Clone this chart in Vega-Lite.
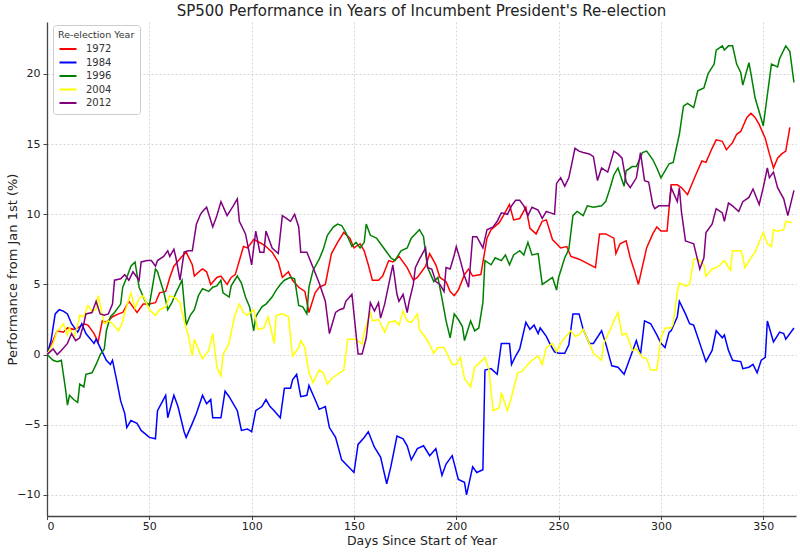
{
  "$schema": "https://vega.github.io/schema/vega-lite/v6.json",
  "autosize": {"type": "none"},
  "width": 749,
  "height": 494,
  "padding": {"left": 47, "top": 22, "right": 4, "bottom": 36},
  "title": {"text": "SP500 Performance in Years of Incumbent President's Re-election", "fontSize": 15, "fontWeight": "normal", "font": "DejaVu Sans", "color": "#222", "offset": 3, "anchor": "middle", "frame": "group"},
  "data": {
    "values": [
      {"year": "1972", "day": 0, "pct": 0}, {"year": "1972", "day": 3, "pct": 1.0}, {"year": "1972", "day": 5, "pct": 1.7}, {"year": "1972", "day": 8, "pct": 1.6}, {"year": "1972", "day": 10, "pct": 1.9}, {"year": "1972", "day": 13, "pct": 1.8}, {"year": "1972", "day": 15, "pct": 1.9}, {"year": "1972", "day": 18, "pct": 2.2}, {"year": "1972", "day": 20, "pct": 2.1}, {"year": "1972", "day": 23, "pct": 1.5}, {"year": "1972", "day": 25, "pct": 0.9}, {"year": "1972", "day": 27, "pct": 2.4}, {"year": "1972", "day": 29, "pct": 2.3}, {"year": "1972", "day": 32, "pct": 2.7}, {"year": "1972", "day": 35, "pct": 2.9}, {"year": "1972", "day": 37, "pct": 3.0}, {"year": "1972", "day": 40, "pct": 3.8}, {"year": "1972", "day": 44, "pct": 3.0}, {"year": "1972", "day": 47, "pct": 3.6}, {"year": "1972", "day": 50, "pct": 3.6}, {"year": "1972", "day": 53, "pct": 3.7}, {"year": "1972", "day": 55, "pct": 4.4}, {"year": "1972", "day": 58, "pct": 4.5}, {"year": "1972", "day": 60, "pct": 5.5}, {"year": "1972", "day": 62, "pct": 6.3}, {"year": "1972", "day": 66, "pct": 7.0}, {"year": "1972", "day": 68, "pct": 7.3}, {"year": "1972", "day": 71, "pct": 6.4}, {"year": "1972", "day": 72, "pct": 5.6}, {"year": "1972", "day": 75, "pct": 6.0}, {"year": "1972", "day": 76, "pct": 6.1}, {"year": "1972", "day": 78, "pct": 5.9}, {"year": "1972", "day": 80, "pct": 5.0}, {"year": "1972", "day": 83, "pct": 5.5}, {"year": "1972", "day": 85, "pct": 5.6}, {"year": "1972", "day": 88, "pct": 5.0}, {"year": "1972", "day": 90, "pct": 5.5}, {"year": "1972", "day": 92, "pct": 5.7}, {"year": "1972", "day": 96, "pct": 7.7}, {"year": "1972", "day": 98, "pct": 7.6}, {"year": "1972", "day": 101, "pct": 8.2}, {"year": "1972", "day": 105, "pct": 7.9}, {"year": "1972", "day": 107, "pct": 7.7}, {"year": "1972", "day": 110, "pct": 7.3}, {"year": "1972", "day": 113, "pct": 6.6}, {"year": "1972", "day": 115, "pct": 5.5}, {"year": "1972", "day": 118, "pct": 5.9}, {"year": "1972", "day": 120, "pct": 5.3}, {"year": "1972", "day": 123, "pct": 4.8}, {"year": "1972", "day": 126, "pct": 4.5}, {"year": "1972", "day": 128, "pct": 3.0}, {"year": "1972", "day": 131, "pct": 4.4}, {"year": "1972", "day": 133, "pct": 4.8}, {"year": "1972", "day": 136, "pct": 5.0}, {"year": "1972", "day": 139, "pct": 7.2}, {"year": "1972", "day": 142, "pct": 8.0}, {"year": "1972", "day": 145, "pct": 8.7}, {"year": "1972", "day": 148, "pct": 8.3}, {"year": "1972", "day": 150, "pct": 7.6}, {"year": "1972", "day": 153, "pct": 7.9}, {"year": "1972", "day": 155, "pct": 7.4}, {"year": "1972", "day": 157, "pct": 6.4}, {"year": "1972", "day": 159, "pct": 5.3}, {"year": "1972", "day": 162, "pct": 5.3}, {"year": "1972", "day": 164, "pct": 5.6}, {"year": "1972", "day": 167, "pct": 6.7}, {"year": "1972", "day": 169, "pct": 6.6}, {"year": "1972", "day": 172, "pct": 7.0}, {"year": "1972", "day": 176, "pct": 6.2}, {"year": "1972", "day": 179, "pct": 5.3}, {"year": "1972", "day": 181, "pct": 5.5}, {"year": "1972", "day": 185, "pct": 6.3}, {"year": "1972", "day": 187, "pct": 7.2}, {"year": "1972", "day": 190, "pct": 6.4}, {"year": "1972", "day": 192, "pct": 5.5}, {"year": "1972", "day": 195, "pct": 5.2}, {"year": "1972", "day": 197, "pct": 4.5}, {"year": "1972", "day": 199, "pct": 4.2}, {"year": "1972", "day": 201, "pct": 4.6}, {"year": "1972", "day": 204, "pct": 5.7}, {"year": "1972", "day": 206, "pct": 6.1}, {"year": "1972", "day": 208, "pct": 5.6}, {"year": "1972", "day": 212, "pct": 5.7}, {"year": "1972", "day": 215, "pct": 8.3}, {"year": "1972", "day": 217, "pct": 8.9}, {"year": "1972", "day": 221, "pct": 9.4}, {"year": "1972", "day": 223, "pct": 9.9}, {"year": "1972", "day": 226, "pct": 10.7}, {"year": "1972", "day": 228, "pct": 9.6}, {"year": "1972", "day": 231, "pct": 9.7}, {"year": "1972", "day": 234, "pct": 10.5}, {"year": "1972", "day": 236, "pct": 9.0}, {"year": "1972", "day": 239, "pct": 8.6}, {"year": "1972", "day": 242, "pct": 9.5}, {"year": "1972", "day": 244, "pct": 9.6}, {"year": "1972", "day": 247, "pct": 8.2}, {"year": "1972", "day": 251, "pct": 7.6}, {"year": "1972", "day": 254, "pct": 7.7}, {"year": "1972", "day": 256, "pct": 7.0}, {"year": "1972", "day": 260, "pct": 6.8}, {"year": "1972", "day": 264, "pct": 6.5}, {"year": "1972", "day": 268, "pct": 6.2}, {"year": "1972", "day": 270, "pct": 8.6}, {"year": "1972", "day": 273, "pct": 8.6}, {"year": "1972", "day": 277, "pct": 8.3}, {"year": "1972", "day": 278, "pct": 7.2}, {"year": "1972", "day": 280, "pct": 7.9}, {"year": "1972", "day": 283, "pct": 8.1}, {"year": "1972", "day": 285, "pct": 6.9}, {"year": "1972", "day": 287, "pct": 6.0}, {"year": "1972", "day": 289, "pct": 5.0}, {"year": "1972", "day": 291, "pct": 6.3}, {"year": "1972", "day": 293, "pct": 7.6}, {"year": "1972", "day": 296, "pct": 8.6}, {"year": "1972", "day": 298, "pct": 9.1}, {"year": "1972", "day": 300, "pct": 8.8}, {"year": "1972", "day": 303, "pct": 8.8}, {"year": "1972", "day": 305, "pct": 12.1}, {"year": "1972", "day": 308, "pct": 12.1}, {"year": "1972", "day": 310, "pct": 11.9}, {"year": "1972", "day": 313, "pct": 11.4}, {"year": "1972", "day": 315, "pct": 12.1}, {"year": "1972", "day": 317, "pct": 12.8}, {"year": "1972", "day": 320, "pct": 13.8}, {"year": "1972", "day": 322, "pct": 13.7}, {"year": "1972", "day": 325, "pct": 14.7}, {"year": "1972", "day": 327, "pct": 15.3}, {"year": "1972", "day": 330, "pct": 15.2}, {"year": "1972", "day": 332, "pct": 14.6}, {"year": "1972", "day": 335, "pct": 15.1}, {"year": "1972", "day": 337, "pct": 15.7}, {"year": "1972", "day": 339, "pct": 15.9}, {"year": "1972", "day": 342, "pct": 16.9}, {"year": "1972", "day": 344, "pct": 17.2}, {"year": "1972", "day": 346, "pct": 16.9}, {"year": "1972", "day": 348, "pct": 16.4}, {"year": "1972", "day": 351, "pct": 15.4}, {"year": "1972", "day": 353, "pct": 14.3}, {"year": "1972", "day": 355, "pct": 13.3}, {"year": "1972", "day": 357, "pct": 14.0}, {"year": "1972", "day": 359, "pct": 14.3}, {"year": "1972", "day": 361, "pct": 14.5}, {"year": "1972", "day": 363, "pct": 16.2},

      {"year": "1984", "day": 0, "pct": 0}, {"year": "1984", "day": 2, "pct": 1.0}, {"year": "1984", "day": 4, "pct": 2.9}, {"year": "1984", "day": 6, "pct": 3.2}, {"year": "1984", "day": 8, "pct": 3.1}, {"year": "1984", "day": 10, "pct": 2.9}, {"year": "1984", "day": 12, "pct": 2.2}, {"year": "1984", "day": 15, "pct": 1.6}, {"year": "1984", "day": 17, "pct": 2.2}, {"year": "1984", "day": 19, "pct": 1.5}, {"year": "1984", "day": 23, "pct": 0.8}, {"year": "1984", "day": 24, "pct": 1.1}, {"year": "1984", "day": 26, "pct": 0.5}, {"year": "1984", "day": 29, "pct": -0.4}, {"year": "1984", "day": 31, "pct": -0.7}, {"year": "1984", "day": 32, "pct": -0.4}, {"year": "1984", "day": 34, "pct": -1.8}, {"year": "1984", "day": 36, "pct": -3.3}, {"year": "1984", "day": 38, "pct": -4.2}, {"year": "1984", "day": 39, "pct": -5.2}, {"year": "1984", "day": 41, "pct": -4.7}, {"year": "1984", "day": 44, "pct": -4.9}, {"year": "1984", "day": 46, "pct": -5.4}, {"year": "1984", "day": 50, "pct": -5.9}, {"year": "1984", "day": 53, "pct": -6.0}, {"year": "1984", "day": 54, "pct": -4.0}, {"year": "1984", "day": 58, "pct": -2.9}, {"year": "1984", "day": 59, "pct": -4.5}, {"year": "1984", "day": 62, "pct": -2.9}, {"year": "1984", "day": 64, "pct": -3.7}, {"year": "1984", "day": 67, "pct": -5.5}, {"year": "1984", "day": 68, "pct": -5.9}, {"year": "1984", "day": 71, "pct": -4.9}, {"year": "1984", "day": 73, "pct": -4.2}, {"year": "1984", "day": 76, "pct": -2.9}, {"year": "1984", "day": 78, "pct": -3.5}, {"year": "1984", "day": 80, "pct": -3.2}, {"year": "1984", "day": 81, "pct": -4.5}, {"year": "1984", "day": 85, "pct": -4.5}, {"year": "1984", "day": 87, "pct": -2.6}, {"year": "1984", "day": 89, "pct": -3.0}, {"year": "1984", "day": 93, "pct": -4.0}, {"year": "1984", "day": 95, "pct": -5.4}, {"year": "1984", "day": 98, "pct": -5.3}, {"year": "1984", "day": 100, "pct": -5.5}, {"year": "1984", "day": 102, "pct": -4.0}, {"year": "1984", "day": 105, "pct": -3.7}, {"year": "1984", "day": 107, "pct": -3.2}, {"year": "1984", "day": 109, "pct": -3.7}, {"year": "1984", "day": 111, "pct": -4.0}, {"year": "1984", "day": 114, "pct": -4.5}, {"year": "1984", "day": 116, "pct": -2.4}, {"year": "1984", "day": 119, "pct": -2.4}, {"year": "1984", "day": 120, "pct": -1.8}, {"year": "1984", "day": 122, "pct": -1.4}, {"year": "1984", "day": 124, "pct": -3.0}, {"year": "1984", "day": 127, "pct": -2.9}, {"year": "1984", "day": 128, "pct": -2.2}, {"year": "1984", "day": 131, "pct": -3.2}, {"year": "1984", "day": 133, "pct": -3.9}, {"year": "1984", "day": 136, "pct": -3.7}, {"year": "1984", "day": 138, "pct": -5.2}, {"year": "1984", "day": 141, "pct": -5.9}, {"year": "1984", "day": 144, "pct": -7.5}, {"year": "1984", "day": 146, "pct": -7.8}, {"year": "1984", "day": 150, "pct": -8.4}, {"year": "1984", "day": 152, "pct": -6.4}, {"year": "1984", "day": 155, "pct": -5.9}, {"year": "1984", "day": 157, "pct": -5.5}, {"year": "1984", "day": 160, "pct": -6.6}, {"year": "1984", "day": 163, "pct": -7.3}, {"year": "1984", "day": 166, "pct": -9.2}, {"year": "1984", "day": 168, "pct": -8.0}, {"year": "1984", "day": 171, "pct": -5.8}, {"year": "1984", "day": 174, "pct": -6.0}, {"year": "1984", "day": 176, "pct": -6.5}, {"year": "1984", "day": 178, "pct": -7.5}, {"year": "1984", "day": 181, "pct": -6.7}, {"year": "1984", "day": 184, "pct": -6.5}, {"year": "1984", "day": 187, "pct": -7.2}, {"year": "1984", "day": 190, "pct": -6.7}, {"year": "1984", "day": 193, "pct": -8.6}, {"year": "1984", "day": 195, "pct": -7.8}, {"year": "1984", "day": 198, "pct": -7.2}, {"year": "1984", "day": 201, "pct": -8.9}, {"year": "1984", "day": 204, "pct": -9.1}, {"year": "1984", "day": 205, "pct": -10.0}, {"year": "1984", "day": 208, "pct": -8.0}, {"year": "1984", "day": 210, "pct": -8.4}, {"year": "1984", "day": 213, "pct": -8.2}, {"year": "1984", "day": 214, "pct": -1.1}, {"year": "1984", "day": 217, "pct": -1.0}, {"year": "1984", "day": 220, "pct": -1.4}, {"year": "1984", "day": 222, "pct": 0.8}, {"year": "1984", "day": 226, "pct": 0.8}, {"year": "1984", "day": 227, "pct": -0.7}, {"year": "1984", "day": 229, "pct": -0.1}, {"year": "1984", "day": 231, "pct": 0.4}, {"year": "1984", "day": 234, "pct": 2.3}, {"year": "1984", "day": 236, "pct": 1.8}, {"year": "1984", "day": 238, "pct": 2.1}, {"year": "1984", "day": 240, "pct": 1.5}, {"year": "1984", "day": 241, "pct": 1.9}, {"year": "1984", "day": 244, "pct": 1.3}, {"year": "1984", "day": 246, "pct": 0.7}, {"year": "1984", "day": 248, "pct": 0.2}, {"year": "1984", "day": 250, "pct": 0.1}, {"year": "1984", "day": 253, "pct": 0.1}, {"year": "1984", "day": 255, "pct": 0.7}, {"year": "1984", "day": 257, "pct": 2.9}, {"year": "1984", "day": 260, "pct": 2.9}, {"year": "1984", "day": 262, "pct": 1.8}, {"year": "1984", "day": 265, "pct": 0.8}, {"year": "1984", "day": 267, "pct": 0.8}, {"year": "1984", "day": 271, "pct": 1.7}, {"year": "1984", "day": 273, "pct": 0.8}, {"year": "1984", "day": 276, "pct": -0.8}, {"year": "1984", "day": 279, "pct": -0.9}, {"year": "1984", "day": 282, "pct": -1.4}, {"year": "1984", "day": 283, "pct": -1.0}, {"year": "1984", "day": 286, "pct": 0.2}, {"year": "1984", "day": 288, "pct": 1.0}, {"year": "1984", "day": 290, "pct": 0.0}, {"year": "1984", "day": 292, "pct": 2.4}, {"year": "1984", "day": 295, "pct": 2.2}, {"year": "1984", "day": 298, "pct": 1.4}, {"year": "1984", "day": 300, "pct": 0.8}, {"year": "1984", "day": 302, "pct": 0.5}, {"year": "1984", "day": 304, "pct": 1.6}, {"year": "1984", "day": 305, "pct": 1.7}, {"year": "1984", "day": 308, "pct": 2.7}, {"year": "1984", "day": 309, "pct": 3.8}, {"year": "1984", "day": 312, "pct": 2.9}, {"year": "1984", "day": 314, "pct": 2.2}, {"year": "1984", "day": 316, "pct": 2.1}, {"year": "1984", "day": 319, "pct": 0.8}, {"year": "1984", "day": 322, "pct": -0.5}, {"year": "1984", "day": 325, "pct": 0.3}, {"year": "1984", "day": 327, "pct": 1.7}, {"year": "1984", "day": 330, "pct": 1.2}, {"year": "1984", "day": 331, "pct": 1.4}, {"year": "1984", "day": 333, "pct": 0.3}, {"year": "1984", "day": 335, "pct": -0.4}, {"year": "1984", "day": 339, "pct": -0.5}, {"year": "1984", "day": 340, "pct": -1.0}, {"year": "1984", "day": 343, "pct": -0.9}, {"year": "1984", "day": 345, "pct": -0.7}, {"year": "1984", "day": 347, "pct": -1.3}, {"year": "1984", "day": 349, "pct": -0.4}, {"year": "1984", "day": 351, "pct": -0.2}, {"year": "1984", "day": 352, "pct": 2.4}, {"year": "1984", "day": 355, "pct": 0.9}, {"year": "1984", "day": 358, "pct": 1.6}, {"year": "1984", "day": 360, "pct": 1.5}, {"year": "1984", "day": 361, "pct": 1.1}, {"year": "1984", "day": 365, "pct": 1.9},

      {"year": "1996", "day": 0, "pct": 0}, {"year": "1996", "day": 3, "pct": -0.4}, {"year": "1996", "day": 5, "pct": -0.5}, {"year": "1996", "day": 7, "pct": -0.4}, {"year": "1996", "day": 9, "pct": -2.4}, {"year": "1996", "day": 10, "pct": -3.6}, {"year": "1996", "day": 11, "pct": -2.9}, {"year": "1996", "day": 13, "pct": -3.2}, {"year": "1996", "day": 15, "pct": -3.4}, {"year": "1996", "day": 16, "pct": -2.1}, {"year": "1996", "day": 18, "pct": -2.3}, {"year": "1996", "day": 19, "pct": -1.4}, {"year": "1996", "day": 22, "pct": -1.3}, {"year": "1996", "day": 24, "pct": -0.7}, {"year": "1996", "day": 26, "pct": 0.0}, {"year": "1996", "day": 28, "pct": 0.4}, {"year": "1996", "day": 29, "pct": 1.7}, {"year": "1996", "day": 31, "pct": 2.7}, {"year": "1996", "day": 33, "pct": 3.0}, {"year": "1996", "day": 36, "pct": 3.6}, {"year": "1996", "day": 37, "pct": 4.8}, {"year": "1996", "day": 39, "pct": 5.5}, {"year": "1996", "day": 41, "pct": 6.3}, {"year": "1996", "day": 43, "pct": 6.6}, {"year": "1996", "day": 45, "pct": 4.8}, {"year": "1996", "day": 48, "pct": 3.8}, {"year": "1996", "day": 50, "pct": 3.5}, {"year": "1996", "day": 53, "pct": 6.1}, {"year": "1996", "day": 54, "pct": 5.9}, {"year": "1996", "day": 57, "pct": 4.5}, {"year": "1996", "day": 59, "pct": 3.2}, {"year": "1996", "day": 61, "pct": 3.7}, {"year": "1996", "day": 63, "pct": 4.4}, {"year": "1996", "day": 66, "pct": 5.3}, {"year": "1996", "day": 68, "pct": 2.1}, {"year": "1996", "day": 70, "pct": 2.8}, {"year": "1996", "day": 72, "pct": 3.2}, {"year": "1996", "day": 74, "pct": 4.2}, {"year": "1996", "day": 76, "pct": 4.7}, {"year": "1996", "day": 79, "pct": 4.5}, {"year": "1996", "day": 81, "pct": 4.8}, {"year": "1996", "day": 83, "pct": 4.9}, {"year": "1996", "day": 85, "pct": 5.3}, {"year": "1996", "day": 86, "pct": 4.4}, {"year": "1996", "day": 89, "pct": 4.1}, {"year": "1996", "day": 90, "pct": 4.9}, {"year": "1996", "day": 93, "pct": 5.6}, {"year": "1996", "day": 95, "pct": 5.1}, {"year": "1996", "day": 97, "pct": 4.1}, {"year": "1996", "day": 99, "pct": 3.4}, {"year": "1996", "day": 101, "pct": 1.7}, {"year": "1996", "day": 102, "pct": 2.7}, {"year": "1996", "day": 105, "pct": 3.4}, {"year": "1996", "day": 107, "pct": 3.6}, {"year": "1996", "day": 110, "pct": 4.1}, {"year": "1996", "day": 112, "pct": 4.6}, {"year": "1996", "day": 114, "pct": 5.0}, {"year": "1996", "day": 116, "pct": 5.3}, {"year": "1996", "day": 119, "pct": 5.5}, {"year": "1996", "day": 121, "pct": 5.4}, {"year": "1996", "day": 123, "pct": 3.5}, {"year": "1996", "day": 125, "pct": 3.4}, {"year": "1996", "day": 127, "pct": 2.9}, {"year": "1996", "day": 128, "pct": 4.8}, {"year": "1996", "day": 130, "pct": 6.0}, {"year": "1996", "day": 133, "pct": 6.8}, {"year": "1996", "day": 135, "pct": 7.5}, {"year": "1996", "day": 137, "pct": 8.5}, {"year": "1996", "day": 140, "pct": 9.1}, {"year": "1996", "day": 142, "pct": 9.3}, {"year": "1996", "day": 144, "pct": 9.2}, {"year": "1996", "day": 146, "pct": 8.7}, {"year": "1996", "day": 149, "pct": 7.7}, {"year": "1996", "day": 151, "pct": 8.0}, {"year": "1996", "day": 153, "pct": 7.6}, {"year": "1996", "day": 155, "pct": 8.0}, {"year": "1996", "day": 156, "pct": 9.3}, {"year": "1996", "day": 158, "pct": 8.5}, {"year": "1996", "day": 161, "pct": 8.3}, {"year": "1996", "day": 164, "pct": 7.7}, {"year": "1996", "day": 168, "pct": 6.9}, {"year": "1996", "day": 170, "pct": 6.7}, {"year": "1996", "day": 173, "pct": 7.4}, {"year": "1996", "day": 176, "pct": 7.6}, {"year": "1996", "day": 178, "pct": 8.3}, {"year": "1996", "day": 182, "pct": 8.9}, {"year": "1996", "day": 184, "pct": 8.4}, {"year": "1996", "day": 185, "pct": 7.2}, {"year": "1996", "day": 186, "pct": 6.2}, {"year": "1996", "day": 189, "pct": 5.2}, {"year": "1996", "day": 191, "pct": 5.5}, {"year": "1996", "day": 193, "pct": 4.0}, {"year": "1996", "day": 195, "pct": 2.4}, {"year": "1996", "day": 197, "pct": 1.2}, {"year": "1996", "day": 199, "pct": 2.9}, {"year": "1996", "day": 201, "pct": 2.5}, {"year": "1996", "day": 203, "pct": 2.0}, {"year": "1996", "day": 204, "pct": 1.0}, {"year": "1996", "day": 207, "pct": 2.4}, {"year": "1996", "day": 209, "pct": 1.7}, {"year": "1996", "day": 211, "pct": 1.9}, {"year": "1996", "day": 213, "pct": 3.7}, {"year": "1996", "day": 214, "pct": 6.7}, {"year": "1996", "day": 217, "pct": 6.4}, {"year": "1996", "day": 219, "pct": 6.9}, {"year": "1996", "day": 222, "pct": 6.7}, {"year": "1996", "day": 224, "pct": 7.1}, {"year": "1996", "day": 226, "pct": 6.4}, {"year": "1996", "day": 228, "pct": 7.1}, {"year": "1996", "day": 231, "pct": 7.4}, {"year": "1996", "day": 233, "pct": 7.1}, {"year": "1996", "day": 235, "pct": 8.0}, {"year": "1996", "day": 237, "pct": 7.1}, {"year": "1996", "day": 240, "pct": 7.2}, {"year": "1996", "day": 242, "pct": 5.0}, {"year": "1996", "day": 244, "pct": 5.2}, {"year": "1996", "day": 247, "pct": 5.5}, {"year": "1996", "day": 249, "pct": 4.6}, {"year": "1996", "day": 250, "pct": 5.5}, {"year": "1996", "day": 253, "pct": 6.9}, {"year": "1996", "day": 255, "pct": 7.5}, {"year": "1996", "day": 257, "pct": 9.9}, {"year": "1996", "day": 259, "pct": 10.2}, {"year": "1996", "day": 262, "pct": 9.9}, {"year": "1996", "day": 264, "pct": 10.6}, {"year": "1996", "day": 267, "pct": 10.5}, {"year": "1996", "day": 271, "pct": 10.6}, {"year": "1996", "day": 273, "pct": 10.9}, {"year": "1996", "day": 275, "pct": 11.8}, {"year": "1996", "day": 277, "pct": 12.8}, {"year": "1996", "day": 279, "pct": 13.3}, {"year": "1996", "day": 282, "pct": 12.0}, {"year": "1996", "day": 283, "pct": 13.1}, {"year": "1996", "day": 286, "pct": 13.4}, {"year": "1996", "day": 288, "pct": 13.4}, {"year": "1996", "day": 291, "pct": 14.4}, {"year": "1996", "day": 293, "pct": 14.5}, {"year": "1996", "day": 296, "pct": 13.9}, {"year": "1996", "day": 298, "pct": 13.3}, {"year": "1996", "day": 300, "pct": 12.6}, {"year": "1996", "day": 302, "pct": 13.1}, {"year": "1996", "day": 304, "pct": 13.6}, {"year": "1996", "day": 306, "pct": 13.7}, {"year": "1996", "day": 309, "pct": 15.7}, {"year": "1996", "day": 311, "pct": 17.7}, {"year": "1996", "day": 313, "pct": 17.9}, {"year": "1996", "day": 316, "pct": 17.6}, {"year": "1996", "day": 318, "pct": 18.8}, {"year": "1996", "day": 321, "pct": 19.0}, {"year": "1996", "day": 323, "pct": 20.0}, {"year": "1996", "day": 326, "pct": 20.7}, {"year": "1996", "day": 327, "pct": 21.7}, {"year": "1996", "day": 330, "pct": 22.0}, {"year": "1996", "day": 331, "pct": 21.7}, {"year": "1996", "day": 333, "pct": 22.0}, {"year": "1996", "day": 335, "pct": 22.0}, {"year": "1996", "day": 337, "pct": 20.7}, {"year": "1996", "day": 339, "pct": 20.1}, {"year": "1996", "day": 340, "pct": 19.2}, {"year": "1996", "day": 343, "pct": 20.8}, {"year": "1996", "day": 344, "pct": 20.0}, {"year": "1996", "day": 346, "pct": 18.3}, {"year": "1996", "day": 348, "pct": 17.3}, {"year": "1996", "day": 350, "pct": 16.3}, {"year": "1996", "day": 352, "pct": 18.5}, {"year": "1996", "day": 354, "pct": 20.7}, {"year": "1996", "day": 357, "pct": 20.5}, {"year": "1996", "day": 358, "pct": 21.1}, {"year": "1996", "day": 361, "pct": 22.0}, {"year": "1996", "day": 363, "pct": 21.6}, {"year": "1996", "day": 365, "pct": 19.4},

      {"year": "2004", "day": 0, "pct": 0}, {"year": "2004", "day": 3, "pct": 0.8}, {"year": "2004", "day": 5, "pct": 1.7}, {"year": "2004", "day": 6, "pct": 1.8}, {"year": "2004", "day": 8, "pct": 2.2}, {"year": "2004", "day": 10, "pct": 1.4}, {"year": "2004", "day": 11, "pct": 1.9}, {"year": "2004", "day": 13, "pct": 1.2}, {"year": "2004", "day": 15, "pct": 2.1}, {"year": "2004", "day": 16, "pct": 2.8}, {"year": "2004", "day": 18, "pct": 2.7}, {"year": "2004", "day": 20, "pct": 3.5}, {"year": "2004", "day": 22, "pct": 3.1}, {"year": "2004", "day": 24, "pct": 3.2}, {"year": "2004", "day": 25, "pct": 4.2}, {"year": "2004", "day": 27, "pct": 2.9}, {"year": "2004", "day": 28, "pct": 2.2}, {"year": "2004", "day": 30, "pct": 2.4}, {"year": "2004", "day": 32, "pct": 2.2}, {"year": "2004", "day": 35, "pct": 1.7}, {"year": "2004", "day": 37, "pct": 2.4}, {"year": "2004", "day": 38, "pct": 3.0}, {"year": "2004", "day": 41, "pct": 4.4}, {"year": "2004", "day": 43, "pct": 3.3}, {"year": "2004", "day": 45, "pct": 4.0}, {"year": "2004", "day": 47, "pct": 4.2}, {"year": "2004", "day": 50, "pct": 3.2}, {"year": "2004", "day": 53, "pct": 2.8}, {"year": "2004", "day": 55, "pct": 3.2}, {"year": "2004", "day": 58, "pct": 3.4}, {"year": "2004", "day": 60, "pct": 4.2}, {"year": "2004", "day": 63, "pct": 4.0}, {"year": "2004", "day": 65, "pct": 3.7}, {"year": "2004", "day": 67, "pct": 2.4}, {"year": "2004", "day": 69, "pct": 1.4}, {"year": "2004", "day": 71, "pct": -0.1}, {"year": "2004", "day": 72, "pct": 1.1}, {"year": "2004", "day": 75, "pct": 0.0}, {"year": "2004", "day": 76, "pct": -0.3}, {"year": "2004", "day": 79, "pct": 0.3}, {"year": "2004", "day": 81, "pct": 1.5}, {"year": "2004", "day": 83, "pct": -0.9}, {"year": "2004", "day": 85, "pct": -1.5}, {"year": "2004", "day": 86, "pct": 0.0}, {"year": "2004", "day": 89, "pct": 0.8}, {"year": "2004", "day": 90, "pct": 1.6}, {"year": "2004", "day": 92, "pct": 2.9}, {"year": "2004", "day": 94, "pct": 3.6}, {"year": "2004", "day": 96, "pct": 3.0}, {"year": "2004", "day": 98, "pct": 2.8}, {"year": "2004", "day": 101, "pct": 3.2}, {"year": "2004", "day": 103, "pct": 1.8}, {"year": "2004", "day": 106, "pct": 1.9}, {"year": "2004", "day": 108, "pct": 2.7}, {"year": "2004", "day": 111, "pct": 0.8}, {"year": "2004", "day": 112, "pct": 2.8}, {"year": "2004", "day": 115, "pct": 2.9}, {"year": "2004", "day": 118, "pct": 2.7}, {"year": "2004", "day": 120, "pct": -0.1}, {"year": "2004", "day": 123, "pct": 0.5}, {"year": "2004", "day": 124, "pct": 1.0}, {"year": "2004", "day": 126, "pct": 0.5}, {"year": "2004", "day": 128, "pct": -1.3}, {"year": "2004", "day": 130, "pct": -2.0}, {"year": "2004", "day": 133, "pct": -1.1}, {"year": "2004", "day": 135, "pct": -1.3}, {"year": "2004", "day": 137, "pct": -2.1}, {"year": "2004", "day": 139, "pct": -1.7}, {"year": "2004", "day": 142, "pct": -1.4}, {"year": "2004", "day": 145, "pct": -1.1}, {"year": "2004", "day": 147, "pct": 1.1}, {"year": "2004", "day": 151, "pct": 1.1}, {"year": "2004", "day": 154, "pct": 0.75}, {"year": "2004", "day": 155, "pct": 1.6}, {"year": "2004", "day": 158, "pct": 3.0}, {"year": "2004", "day": 159, "pct": 2.4}, {"year": "2004", "day": 162, "pct": 2.5}, {"year": "2004", "day": 163, "pct": 2.2}, {"year": "2004", "day": 165, "pct": 1.6}, {"year": "2004", "day": 167, "pct": 2.3}, {"year": "2004", "day": 170, "pct": 2.4}, {"year": "2004", "day": 172, "pct": 2.1}, {"year": "2004", "day": 174, "pct": 3.1}, {"year": "2004", "day": 176, "pct": 2.4}, {"year": "2004", "day": 178, "pct": 2.3}, {"year": "2004", "day": 181, "pct": 2.9}, {"year": "2004", "day": 182, "pct": 1.8}, {"year": "2004", "day": 185, "pct": 1.2}, {"year": "2004", "day": 187, "pct": 0.7}, {"year": "2004", "day": 189, "pct": 0.1}, {"year": "2004", "day": 191, "pct": 0.5}, {"year": "2004", "day": 194, "pct": 0.5}, {"year": "2004", "day": 196, "pct": -0.1}, {"year": "2004", "day": 198, "pct": -0.7}, {"year": "2004", "day": 200, "pct": -0.7}, {"year": "2004", "day": 202, "pct": -0.2}, {"year": "2004", "day": 204, "pct": -1.7}, {"year": "2004", "day": 207, "pct": -2.3}, {"year": "2004", "day": 209, "pct": -0.9}, {"year": "2004", "day": 212, "pct": -0.5}, {"year": "2004", "day": 214, "pct": -0.2}, {"year": "2004", "day": 216, "pct": -1.1}, {"year": "2004", "day": 218, "pct": -4.0}, {"year": "2004", "day": 221, "pct": -3.8}, {"year": "2004", "day": 222, "pct": -2.7}, {"year": "2004", "day": 225, "pct": -4.0}, {"year": "2004", "day": 227, "pct": -3.0}, {"year": "2004", "day": 230, "pct": -1.3}, {"year": "2004", "day": 232, "pct": -1.2}, {"year": "2004", "day": 235, "pct": -0.7}, {"year": "2004", "day": 237, "pct": -0.4}, {"year": "2004", "day": 240, "pct": -0.1}, {"year": "2004", "day": 242, "pct": -0.7}, {"year": "2004", "day": 244, "pct": 0.5}, {"year": "2004", "day": 247, "pct": 0.8}, {"year": "2004", "day": 249, "pct": 0.2}, {"year": "2004", "day": 251, "pct": 0.8}, {"year": "2004", "day": 253, "pct": 1.2}, {"year": "2004", "day": 256, "pct": 1.7}, {"year": "2004", "day": 258, "pct": 1.3}, {"year": "2004", "day": 260, "pct": 1.4}, {"year": "2004", "day": 262, "pct": 1.8}, {"year": "2004", "day": 265, "pct": 0.8}, {"year": "2004", "day": 267, "pct": 0.1}, {"year": "2004", "day": 271, "pct": -0.4}, {"year": "2004", "day": 272, "pct": 0.8}, {"year": "2004", "day": 275, "pct": 1.7}, {"year": "2004", "day": 277, "pct": 2.4}, {"year": "2004", "day": 279, "pct": 3.0}, {"year": "2004", "day": 281, "pct": 1.4}, {"year": "2004", "day": 283, "pct": 1.5}, {"year": "2004", "day": 286, "pct": 0.3}, {"year": "2004", "day": 288, "pct": 0.4}, {"year": "2004", "day": 291, "pct": -0.2}, {"year": "2004", "day": 293, "pct": -0.3}, {"year": "2004", "day": 295, "pct": -1.1}, {"year": "2004", "day": 298, "pct": -1.1}, {"year": "2004", "day": 300, "pct": 1.2}, {"year": "2004", "day": 302, "pct": 1.9}, {"year": "2004", "day": 305, "pct": 1.9}, {"year": "2004", "day": 306, "pct": 2.2}, {"year": "2004", "day": 308, "pct": 4.5}, {"year": "2004", "day": 309, "pct": 5.1}, {"year": "2004", "day": 312, "pct": 4.9}, {"year": "2004", "day": 314, "pct": 5.0}, {"year": "2004", "day": 316, "pct": 6.8}, {"year": "2004", "day": 318, "pct": 6.8}, {"year": "2004", "day": 321, "pct": 6.4}, {"year": "2004", "day": 322, "pct": 5.6}, {"year": "2004", "day": 325, "pct": 6.1}, {"year": "2004", "day": 327, "pct": 6.2}, {"year": "2004", "day": 329, "pct": 6.4}, {"year": "2004", "day": 331, "pct": 6.7}, {"year": "2004", "day": 334, "pct": 6.0}, {"year": "2004", "day": 335, "pct": 7.4}, {"year": "2004", "day": 339, "pct": 7.4}, {"year": "2004", "day": 340, "pct": 7.0}, {"year": "2004", "day": 341, "pct": 6.2}, {"year": "2004", "day": 344, "pct": 6.9}, {"year": "2004", "day": 346, "pct": 7.3}, {"year": "2004", "day": 348, "pct": 8.0}, {"year": "2004", "day": 350, "pct": 8.7}, {"year": "2004", "day": 352, "pct": 7.9}, {"year": "2004", "day": 354, "pct": 7.7}, {"year": "2004", "day": 355, "pct": 8.9}, {"year": "2004", "day": 357, "pct": 8.8}, {"year": "2004", "day": 360, "pct": 8.9}, {"year": "2004", "day": 361, "pct": 9.5}, {"year": "2004", "day": 364, "pct": 9.4},

      {"year": "2012", "day": 0, "pct": 0}, {"year": "2012", "day": 3, "pct": 0.4}, {"year": "2012", "day": 5, "pct": 0.0}, {"year": "2012", "day": 7, "pct": 0.3}, {"year": "2012", "day": 10, "pct": 0.8}, {"year": "2012", "day": 12, "pct": 1.5}, {"year": "2012", "day": 14, "pct": 1.0}, {"year": "2012", "day": 16, "pct": 1.2}, {"year": "2012", "day": 18, "pct": 2.2}, {"year": "2012", "day": 19, "pct": 2.9}, {"year": "2012", "day": 22, "pct": 3.0}, {"year": "2012", "day": 24, "pct": 3.8}, {"year": "2012", "day": 26, "pct": 2.9}, {"year": "2012", "day": 28, "pct": 2.8}, {"year": "2012", "day": 30, "pct": 2.9}, {"year": "2012", "day": 32, "pct": 3.6}, {"year": "2012", "day": 33, "pct": 5.3}, {"year": "2012", "day": 36, "pct": 5.4}, {"year": "2012", "day": 38, "pct": 5.7}, {"year": "2012", "day": 40, "pct": 5.3}, {"year": "2012", "day": 42, "pct": 5.9}, {"year": "2012", "day": 45, "pct": 5.3}, {"year": "2012", "day": 46, "pct": 6.6}, {"year": "2012", "day": 49, "pct": 6.7}, {"year": "2012", "day": 51, "pct": 6.7}, {"year": "2012", "day": 53, "pct": 6.3}, {"year": "2012", "day": 54, "pct": 6.7}, {"year": "2012", "day": 57, "pct": 7.0}, {"year": "2012", "day": 59, "pct": 7.4}, {"year": "2012", "day": 60, "pct": 7.0}, {"year": "2012", "day": 62, "pct": 7.5}, {"year": "2012", "day": 63, "pct": 6.9}, {"year": "2012", "day": 65, "pct": 5.3}, {"year": "2012", "day": 67, "pct": 7.3}, {"year": "2012", "day": 69, "pct": 7.4}, {"year": "2012", "day": 71, "pct": 7.4}, {"year": "2012", "day": 73, "pct": 9.3}, {"year": "2012", "day": 75, "pct": 10.0}, {"year": "2012", "day": 76, "pct": 10.2}, {"year": "2012", "day": 78, "pct": 10.5}, {"year": "2012", "day": 81, "pct": 9.1}, {"year": "2012", "day": 83, "pct": 9.9}, {"year": "2012", "day": 85, "pct": 10.9}, {"year": "2012", "day": 88, "pct": 9.9}, {"year": "2012", "day": 91, "pct": 10.6}, {"year": "2012", "day": 93, "pct": 11.1}, {"year": "2012", "day": 94, "pct": 9.5}, {"year": "2012", "day": 97, "pct": 8.6}, {"year": "2012", "day": 100, "pct": 6.4}, {"year": "2012", "day": 102, "pct": 8.8}, {"year": "2012", "day": 104, "pct": 7.3}, {"year": "2012", "day": 106, "pct": 7.3}, {"year": "2012", "day": 107, "pct": 8.8}, {"year": "2012", "day": 110, "pct": 7.6}, {"year": "2012", "day": 113, "pct": 7.2}, {"year": "2012", "day": 115, "pct": 9.9}, {"year": "2012", "day": 118, "pct": 9.6}, {"year": "2012", "day": 119, "pct": 9.5}, {"year": "2012", "day": 121, "pct": 10.0}, {"year": "2012", "day": 123, "pct": 9.1}, {"year": "2012", "day": 124, "pct": 7.3}, {"year": "2012", "day": 127, "pct": 7.3}, {"year": "2012", "day": 130, "pct": 6.2}, {"year": "2012", "day": 133, "pct": 5.1}, {"year": "2012", "day": 136, "pct": 3.8}, {"year": "2012", "day": 138, "pct": 1.5}, {"year": "2012", "day": 141, "pct": 3.0}, {"year": "2012", "day": 143, "pct": 3.2}, {"year": "2012", "day": 145, "pct": 3.3}, {"year": "2012", "day": 146, "pct": 3.8}, {"year": "2012", "day": 149, "pct": 4.3}, {"year": "2012", "day": 150, "pct": 2.9}, {"year": "2012", "day": 152, "pct": 0.05}, {"year": "2012", "day": 154, "pct": 0.05}, {"year": "2012", "day": 156, "pct": 1.2}, {"year": "2012", "day": 158, "pct": 3.7}, {"year": "2012", "day": 160, "pct": 3.1}, {"year": "2012", "day": 162, "pct": 3.7}, {"year": "2012", "day": 163, "pct": 2.6}, {"year": "2012", "day": 165, "pct": 3.6}, {"year": "2012", "day": 167, "pct": 5.0}, {"year": "2012", "day": 169, "pct": 6.4}, {"year": "2012", "day": 171, "pct": 4.3}, {"year": "2012", "day": 172, "pct": 3.8}, {"year": "2012", "day": 174, "pct": 4.3}, {"year": "2012", "day": 176, "pct": 3.0}, {"year": "2012", "day": 177, "pct": 3.8}, {"year": "2012", "day": 179, "pct": 5.0}, {"year": "2012", "day": 180, "pct": 6.2}, {"year": "2012", "day": 182, "pct": 6.8}, {"year": "2012", "day": 185, "pct": 7.6}, {"year": "2012", "day": 186, "pct": 6.2}, {"year": "2012", "day": 188, "pct": 6.1}, {"year": "2012", "day": 190, "pct": 5.2}, {"year": "2012", "day": 192, "pct": 5.0}, {"year": "2012", "day": 194, "pct": 4.5}, {"year": "2012", "day": 195, "pct": 6.2}, {"year": "2012", "day": 197, "pct": 6.1}, {"year": "2012", "day": 199, "pct": 7.1}, {"year": "2012", "day": 200, "pct": 7.7}, {"year": "2012", "day": 202, "pct": 6.7}, {"year": "2012", "day": 204, "pct": 5.6}, {"year": "2012", "day": 206, "pct": 4.8}, {"year": "2012", "day": 208, "pct": 8.4}, {"year": "2012", "day": 210, "pct": 8.4}, {"year": "2012", "day": 213, "pct": 7.6}, {"year": "2012", "day": 215, "pct": 8.9}, {"year": "2012", "day": 218, "pct": 9.1}, {"year": "2012", "day": 220, "pct": 9.5}, {"year": "2012", "day": 222, "pct": 10.1}, {"year": "2012", "day": 225, "pct": 10.0}, {"year": "2012", "day": 227, "pct": 10.6}, {"year": "2012", "day": 229, "pct": 11.0}, {"year": "2012", "day": 231, "pct": 11.0}, {"year": "2012", "day": 233, "pct": 10.6}, {"year": "2012", "day": 235, "pct": 9.9}, {"year": "2012", "day": 237, "pct": 10.5}, {"year": "2012", "day": 240, "pct": 10.3}, {"year": "2012", "day": 242, "pct": 9.7}, {"year": "2012", "day": 244, "pct": 10.2}, {"year": "2012", "day": 246, "pct": 10.1}, {"year": "2012", "day": 248, "pct": 10.0}, {"year": "2012", "day": 249, "pct": 12.2}, {"year": "2012", "day": 251, "pct": 12.6}, {"year": "2012", "day": 253, "pct": 12.0}, {"year": "2012", "day": 255, "pct": 12.6}, {"year": "2012", "day": 258, "pct": 14.7}, {"year": "2012", "day": 260, "pct": 14.5}, {"year": "2012", "day": 262, "pct": 14.4}, {"year": "2012", "day": 265, "pct": 14.3}, {"year": "2012", "day": 267, "pct": 14.1}, {"year": "2012", "day": 269, "pct": 12.4}, {"year": "2012", "day": 271, "pct": 13.3}, {"year": "2012", "day": 274, "pct": 13.0}, {"year": "2012", "day": 277, "pct": 14.5}, {"year": "2012", "day": 279, "pct": 14.3}, {"year": "2012", "day": 281, "pct": 14.0}, {"year": "2012", "day": 283, "pct": 12.3}, {"year": "2012", "day": 285, "pct": 11.9}, {"year": "2012", "day": 288, "pct": 12.6}, {"year": "2012", "day": 290, "pct": 14.4}, {"year": "2012", "day": 292, "pct": 12.4}, {"year": "2012", "day": 294, "pct": 12.3}, {"year": "2012", "day": 296, "pct": 10.7}, {"year": "2012", "day": 297, "pct": 10.4}, {"year": "2012", "day": 299, "pct": 10.6}, {"year": "2012", "day": 304, "pct": 10.6}, {"year": "2012", "day": 305, "pct": 11.9}, {"year": "2012", "day": 308, "pct": 10.9}, {"year": "2012", "day": 309, "pct": 11.9}, {"year": "2012", "day": 310, "pct": 10.2}, {"year": "2012", "day": 312, "pct": 8.1}, {"year": "2012", "day": 314, "pct": 8.0}, {"year": "2012", "day": 316, "pct": 7.9}, {"year": "2012", "day": 318, "pct": 6.7}, {"year": "2012", "day": 319, "pct": 6.1}, {"year": "2012", "day": 321, "pct": 6.9}, {"year": "2012", "day": 322, "pct": 8.7}, {"year": "2012", "day": 325, "pct": 9.3}, {"year": "2012", "day": 327, "pct": 10.4}, {"year": "2012", "day": 330, "pct": 10.1}, {"year": "2012", "day": 331, "pct": 9.5}, {"year": "2012", "day": 333, "pct": 10.8}, {"year": "2012", "day": 335, "pct": 10.6}, {"year": "2012", "day": 338, "pct": 10.2}, {"year": "2012", "day": 340, "pct": 10.9}, {"year": "2012", "day": 343, "pct": 11.2}, {"year": "2012", "day": 345, "pct": 11.8}, {"year": "2012", "day": 348, "pct": 10.7}, {"year": "2012", "day": 350, "pct": 11.9}, {"year": "2012", "day": 352, "pct": 13.3}, {"year": "2012", "day": 353, "pct": 12.6}, {"year": "2012", "day": 355, "pct": 13.0}, {"year": "2012", "day": 357, "pct": 11.9}, {"year": "2012", "day": 360, "pct": 11.1}, {"year": "2012", "day": 362, "pct": 9.9}, {"year": "2012", "day": 365, "pct": 11.7}
    ]
  },
  "mark": {"type": "line", "strokeWidth": 1.5, "clip": true},
  "encoding": {
    "x": {
      "field": "day",
      "type": "quantitative",
      "title": "Days Since Start of Year",
      "scale": {"domain": [0, 366], "nice": false, "zero": false},
      "axis": {"values": [0, 50, 100, 150, 200, 250, 300, 350], "tickSize": 3.5, "labelPadding": 1, "titlePadding": 3, "titleFontSize": 12.5}
    },
    "y": {
      "field": "pct",
      "type": "quantitative",
      "title": "Performance from Jan 1st (%)",
      "scale": {"domain": [-11.5, 23.7], "nice": false, "zero": false},
      "axis": {"values": [-10, -5, 0, 5, 10, 15, 20], "labelPadding": 3, "titleX": -28, "titleY": 247, "titleAngle": 270, "titleBaseline": "bottom", "titleAlign": "center"}
    },
    "color": {
      "field": "year",
      "type": "nominal",
      "title": "Re-election Year",
      "scale": {"domain": ["1972", "1984", "1996", "2004", "2012"], "range": ["#ff0000", "#0000ff", "#008000", "#ffff00", "#800080"]},
      "legend": {"orient": "none", "legendX": 6, "legendY": 3}
    },
    "order": {"field": "day", "type": "quantitative"}
  },
  "config": {
    "font": "DejaVu Sans",
    "view": {"stroke": null},
    "axis": {
      "labelFont": "DejaVu Sans",
      "titleFont": "DejaVu Sans",
      "labelFontSize": 11,
      "titleFontSize": 13,
      "titleFontWeight": "normal",
      "labelColor": "#222",
      "titleColor": "#222",
      "gridColor": "#cccccc",
      "gridDash": [2, 2],
      "gridWidth": 0.8,
      "domainColor": "#444",
      "domainWidth": 1.3,
      "tickColor": "#444",
      "tickSize": 4
    },
    "legend": {
      "titleFont": "DejaVu Sans",
      "labelFont": "DejaVu Sans",
      "titleFontSize": 9.5,
      "titleFontWeight": "normal",
      "titleColor": "#333",
      "titlePadding": 4,
      "labelFontSize": 10,
      "labelColor": "#333",
      "symbolType": "stroke",
      "symbolStrokeWidth": 2,
      "symbolSize": 290,
      "clipHeight": 11,
      "fillColor": "white",
      "strokeColor": "#cccccc",
      "padding": 5,
      "cornerRadius": 3,
      "rowPadding": 2.5,
      "labelOffset": 8
    }
  }
}
